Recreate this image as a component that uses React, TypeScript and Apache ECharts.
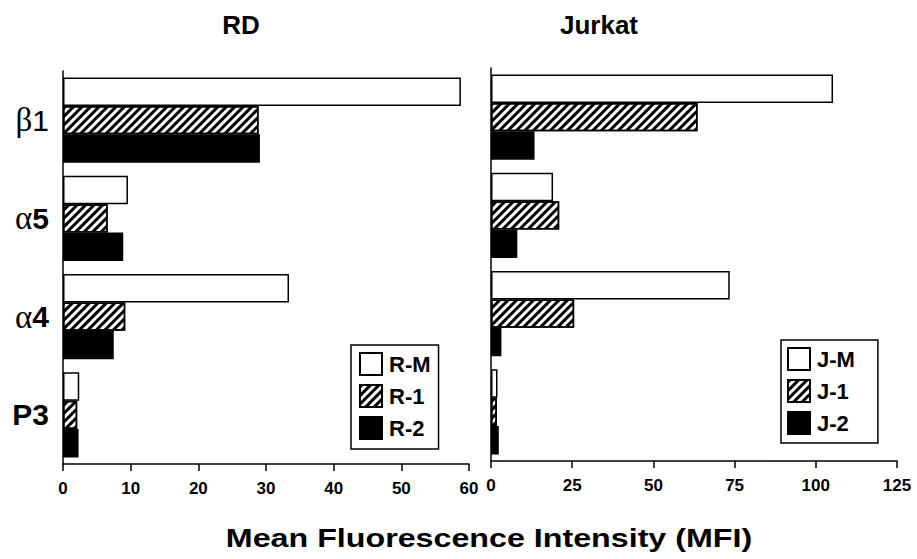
import React, { useEffect, useRef } from 'react';
import * as echarts from 'echarts';

const categories = ['β1', 'α5', 'α4', 'P3'];
const rdNames = ['R-M', 'R-1', 'R-2'];
const jkNames = ['J-M', 'J-1', 'J-2'];
const rdM = [58.8, 9.6, 33.4, 2.4];
const rd1 = [28.9, 6.6, 9.2, 2.1];
const rd2 = [29.1, 8.9, 7.5, 2.3];
const jkM = [105.3, 19.1, 73.5, 2.0];
const jk1 = [63.6, 21.0, 25.6, 1.8];
const jk2 = [13.4, 8.1, 3.2, 2.4];
const rdAxis = { min: 0, max: 60, interval: 10 };
const jkAxis = { min: 0, max: 125, interval: 25 };
const panelTitles = ['RD', 'Jurkat'];
const xTitle = 'Mean Fluorescence Intensity (MFI)';

const FONT = 'Liberation Sans, Arial, Helvetica, sans-serif';

const hatch = {
  symbol: 'rect',
  symbolSize: 1,
  color: '#000',
  dashArrayX: [1, 0],
  dashArrayY: [2.5, 2.5],
  rotation: -Math.PI / 4,
};

const styles = [
  { color: '#fff', borderColor: '#000', borderWidth: 1.5 },
  { color: '#fff', borderColor: '#000', borderWidth: 1.5, decal: hatch },
  { color: '#000', borderColor: '#000', borderWidth: 1.5 },
];

export default function App() {
  const ref = useRef<HTMLDivElement>(null);
  useEffect(() => {
    if (!ref.current) return;
    const chart = echarts.init(ref.current, null, { renderer: 'svg' });
    const axisLine = { show: true, lineStyle: { color: '#000', width: 1.5 } };
    const xAxisCommon = {
      type: 'value',
      axisLine,
      axisTick: { show: true, length: 7, lineStyle: { color: '#000', width: 1.5 } },
      splitLine: { show: false },
      axisLabel: { color: '#000', fontFamily: FONT, fontWeight: 'bold', fontSize: 17, margin: 16 },
    };
    const yAxisCommon = {
      type: 'category',
      data: categories,
      inverse: true,
      axisLine,
      axisTick: { show: false },
    };
    const mk = (names: string[], data: number[][], idx: number) =>
      names.map((n, i) => ({
        name: n,
        type: 'bar',
        xAxisIndex: idx,
        yAxisIndex: idx,
        data: data[i],
        barGap: '0%',
        barCategoryGap: '13%',
        itemStyle: styles[i],
      }));
    const legendCommon = {
      orient: 'vertical',
      icon: 'rect',
      itemWidth: 22,
      itemHeight: 22,
      itemGap: 8,
      borderColor: '#000',
      borderWidth: 1.5,
      textStyle: { fontFamily: FONT, fontWeight: 'bold', fontSize: 22, color: '#000', padding: [0, 0, 0, 2] },
    };
    chart.setOption({
      animation: false,
      backgroundColor: '#fff',
      grid: [
        { left: 63, top: 71, width: 406, height: 393 },
        { left: 491, top: 68, width: 406, height: 393 },
      ],
      xAxis: [
        { ...xAxisCommon, gridIndex: 0, ...rdAxis },
        { ...xAxisCommon, gridIndex: 1, ...jkAxis },
      ],
      yAxis: [
        {
          ...yAxisCommon,
          gridIndex: 0,
          axisLabel: {
            margin: 14,
            color: '#000',
            formatter: (v: string) =>
              v === 'P3'
                ? '{b|P3}'
                : `{g|${v[0]}}{${v === 'β1' ? 'r' : 'b'}|${v.slice(1)}}`,
            rich: {
              g: { fontFamily: 'Liberation Serif, serif', fontSize: 33, color: '#000' },
              b: { fontFamily: FONT, fontWeight: 'bold', fontSize: 30, color: '#000' },
              r: { fontFamily: FONT, fontSize: 30, color: '#000' },
            },
          },
        },
        { ...yAxisCommon, gridIndex: 1, axisLabel: { show: false } },
      ],
      legend: [
        { ...legendCommon, data: rdNames, left: 351, top: 345, padding: [7, 8, 9, 8] },
        { ...legendCommon, data: jkNames, left: 781, top: 340, padding: [7, 23, 8, 6] },
      ],
      graphic: [
        {
          type: 'text', x: 241, y: 12,
          style: { text: panelTitles[0], fontFamily: FONT, fontWeight: 'bold', fontSize: 26, fill: '#000', textAlign: 'center', textVerticalAlign: 'top' },
        },
        {
          type: 'text', x: 599, y: 12,
          style: { text: panelTitles[1], fontFamily: FONT, fontWeight: 'bold', fontSize: 26, fill: '#000', textAlign: 'center', textVerticalAlign: 'top' },
        },
        {
          type: 'text', x: 489, y: 525, scaleX: 1.24,
          style: { text: xTitle, fontFamily: FONT, fontWeight: 'bold', fontSize: 26, fill: '#000', textAlign: 'center', textVerticalAlign: 'top' },
        },
      ],
      series: [
        ...mk(rdNames, [rdM, rd1, rd2], 0),
        ...mk(jkNames, [jkM, jk1, jk2], 1),
      ],
    });
    return () => chart.dispose();
  }, []);
  return <div ref={ref} style={{ width: 917, height: 559, position: 'absolute', left: 0, top: 0 }} />;
}
